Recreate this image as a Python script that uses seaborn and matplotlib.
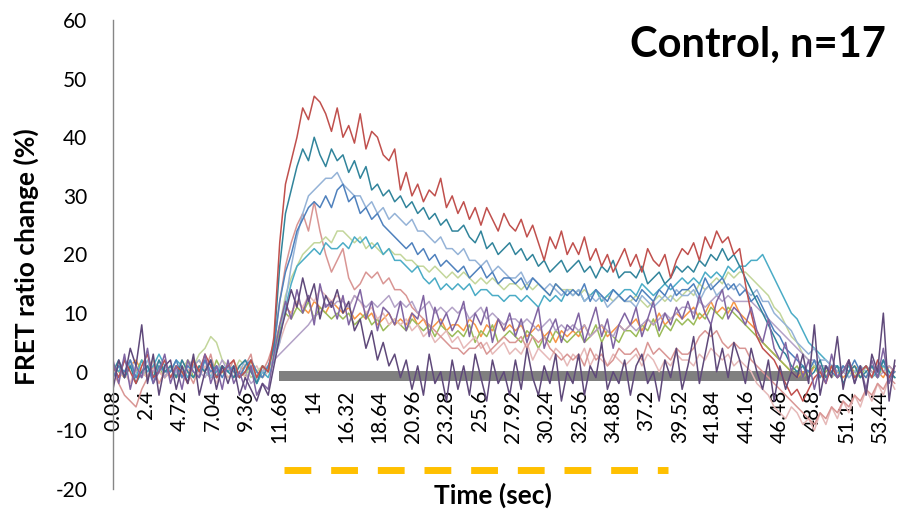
import numpy as np
import pandas as pd
import matplotlib
matplotlib.use("Agg")
import matplotlib.pyplot as plt
import seaborn as sns

sns.set_style("white")
plt.rcParams["font.family"] = ["Lato", "DejaVu Sans"]

# sampling of the traces (seconds)
t_start = 0.08
t_step = 0.4

red = [1,-1,2,0,-2,1,3,-1,0,2,
       -1,1,0,-2,2,0,3,1,-1,0,
       1,2,-1,0,2,-1,1,0,6,22,
       32,36,40,45,43,47,46,44,41,45,
       40,42,39,44,38,41,40,37,36,38,
       31,34,30,32,29,31,30,33,28,30,
       27,29,26,28,25,28,26,24,27,25,
       24,26,23,25,22,19,23,21,24,20,
       22,20,23,19,21,18,20,17,19,21,
       18,20,17,21,19,18,20,16,19,21,
       20,22,19,23,21,24,22,23,20,21,
       15,10,6,4,3,2,0,-2,-4,-3,
       -5,-3,-1,0,-2,1,-1,0,2,-1,
       0,1,-1,2,0,-1,1]

teal = [0,2,-1,1,-2,0,1,-1,2,0,
        1,-1,2,0,-1,1,0,2,-1,1,
        0,-1,1,2,0,-2,1,0,5,18,
        27,31,35,38,36,40,37,35,38,36,
        37,34,36,33,35,31,32,30,31,29,
        30,28,29,27,28,26,27,25,26,24,
        24,25,23,22,24,21,22,20,21,22,
        20,21,19,20,18,19,17,18,19,17,
        18,19,17,18,16,18,17,19,16,17,
        17,16,18,15,16,17,15,16,18,17,
        18,17,19,18,20,19,21,19,20,18,
        16,14,12,10,8,6,4,3,1,0,
        1,-1,0,2,-1,0,1,-2,0,1,
        -1,0,1,-1,2,0,-1]

blue = [-1,1,0,2,-1,0,1,-2,1,0,
        0,2,-1,1,0,-1,2,0,1,-1,
        1,0,-1,1,2,0,-1,1,4,12,
        17,20,24,26,28,29,28,30,28,31,
        32,29,30,27,28,26,27,25,24,23,
        22,21,22,20,21,19,20,18,19,18,
        17,18,16,17,18,16,17,15,16,16,
        15,16,14,16,15,14,13,15,14,13,
        14,13,15,12,14,13,12,14,13,12,
        13,12,14,13,12,14,13,15,13,14,
        14,15,13,16,14,15,16,14,15,13,
        14,12,13,11,9,7,6,4,3,2,
        1,0,2,-1,1,0,-1,1,0,2,
        0,-1,1,0,2,-1,0]

light_blue = [0,-1,2,1,-1,0,2,-1,0,1,
              -1,0,1,-2,1,2,0,-1,1,0,
              1,-1,0,2,1,-1,0,1,2,5,
              12,18,23,27,30,31,32,33,33,34,
              32,31,30,30,28,29,27,28,26,27,
              26,25,26,24,24,23,22,23,21,21,
              20,21,19,19,18,19,17,18,17,16,
              16,17,15,16,15,14,15,14,13,14,
              13,14,12,13,12,13,11,12,13,12,
              12,11,13,12,11,12,13,12,14,13,
              13,14,12,14,15,13,14,15,14,15,
              14,13,14,12,12,10,9,8,7,5,
              4,3,4,2,2,1,0,1,-1,0,
              1,0,-1,1,0,-1,1]

cyan = [1,0,2,1,-1,2,0,1,3,1,
        0,2,1,-1,1,0,2,-1,0,1,
        0,1,-1,0,1,-2,0,-1,2,6,
        11,15,18,19,20,21,20,22,21,21,
        22,21,23,22,23,21,22,20,21,19,
        19,18,17,18,16,15,16,14,15,14,
        15,14,15,13,14,14,13,13,12,13,
        13,12,13,12,11,13,12,13,12,14,
        13,14,12,13,14,12,13,14,13,14,
        14,13,15,14,13,14,15,14,15,16,
        15,16,15,17,16,17,16,18,17,18,
        18,19,19,20,18,16,14,12,10,9,
        7,5,4,3,2,1,1,0,1,-1,
        0,1,-1,0,1,0,-1]

light_green = [0,1,-1,2,0,-1,1,2,0,1,
               0,1,0,2,1,3,4,6,5,2,
               1,0,2,1,-1,0,1,0,3,8,
               13,16,18,20,21,22,22,23,22,24,
               24,23,22,23,21,22,21,20,21,20,
               20,19,19,18,18,17,18,17,16,17,
               16,17,16,15,16,15,16,15,14,15,
               15,14,15,14,15,14,13,15,14,14,
               14,13,14,13,14,12,13,12,13,12,
               12,13,12,11,12,13,12,13,12,13,
               14,13,15,14,15,16,15,17,16,17,
               17,16,15,14,13,11,10,8,6,5,
               3,2,1,0,1,-1,0,1,0,-1,
               1,0,-1,0,1,-1,0]

pink = [0,-2,-4,-5,-6,-3,-1,1,-2,0,
        1,-1,2,0,-2,1,0,3,-1,1,
        0,2,-1,1,3,-2,0,2,5,12,
        18,22,25,27,24,29,24,20,17,19,
        21,16,14,15,17,16,17,15,16,14,
        14,13,11,10,9,8,7,6,5,4,
        4,3,4,4,5,3,4,5,6,5,
        5,6,4,6,5,6,4,3,2,3,
        2,3,1,4,2,3,1,2,4,3,
        3,4,2,5,3,4,3,2,4,3,
        3,4,6,7,6,7,5,4,5,4,
        4,2,1,0,-1,-2,-3,-4,-5,-6,
        -7,-8,-9,-7,-8,-6,-7,-5,-6,-4,
        -5,-3,-4,-2,-3,-1,-2]

light_pink = [1,-1,0,-2,1,0,-1,2,0,-1,
              0,1,-1,0,2,-1,1,0,-2,1,
              -1,0,1,-1,0,1,-1,0,2,5,
              8,10,12,11,13,12,14,13,12,13,
              12,11,13,12,10,11,9,10,8,9,
              8,9,7,8,6,7,5,6,7,5,
              6,4,5,6,4,5,3,4,5,3,
              4,3,5,2,4,3,2,4,3,1,
              3,2,4,1,3,2,1,3,2,1,
              2,3,1,3,2,0,2,1,3,2,
              2,1,3,2,4,3,2,3,1,2,
              1,0,-2,-3,-4,-6,-7,-8,-6,-7,
              -9,-8,-10,-7,-9,-6,-8,-5,-7,-4,
              -6,-3,-5,-2,-4,-1,-3]

purple = [2,-2,3,-3,1,-1,4,-2,0,3,
          -2,1,-3,2,0,-1,3,-2,1,-3,
          2,-2,0,-3,1,-4,-2,-3,3,8,
          12,9,14,10,13,8,15,11,12,9,
          13,8,11,14,9,12,7,11,10,8,
          12,7,10,9,13,6,11,8,10,7,
          9,12,6,10,8,11,5,9,7,10,
          6,9,5,8,11,4,7,9,5,8,
          7,10,5,8,11,6,9,4,8,10,
          8,11,6,9,12,7,10,8,11,9,
          12,9,13,10,8,12,14,9,11,10,
          8,11,7,5,9,4,2,5,0,3,
          -1,2,-3,1,-2,3,-1,0,2,-2,
          1,-3,2,-1,4,-2,1]

dark_purple = [-3,2,-1,4,1,8,-2,3,-4,1,
               2,-3,1,-2,3,-4,0,2,-3,1,
               -2,1,-4,-1,-3,-5,-2,-4,1,6,
               10,14,11,16,12,15,9,13,11,14,
               10,12,7,9,4,7,2,5,1,3,
               -1,2,-3,1,-4,3,-2,0,-5,2,
               -3,1,-4,3,-1,-5,2,-2,0,-4,
               2,-3,4,-1,-4,1,-2,3,-5,0,
               -2,3,-4,1,-1,5,-3,0,-2,2,
               -4,1,3,-2,0,-5,2,-1,4,-3,
               1,6,-2,3,8,0,4,-1,5,2,
               -2,4,0,-3,2,-5,1,-3,0,-1,
               3,-2,8,-4,1,-1,6,-3,2,-2,
               1,-4,3,0,10,-5,2]

lavender = [0,1,-1,2,0,-1,1,0,2,-1,
            1,0,-1,1,2,0,-1,1,0,2,
            0,1,-1,0,-2,-1,0,1,2,3,
            4,5,6,7,8,9.5,10,11.5,11,12,
            12,11,13,12,11,12,11,12,13,11,
            12,11,12,10,11,12,10,11,10,11,
            10,11,9,10,11,9,10,9,8,9,
            9,8,9,8,7,8,9,7,8,7,
            8,7,8,6,7,8,7,6,8,7,
            8,7,8,9,8,9,10,9,10,11,
            11,10,12,11,12,13,12,13,12,12,
            12,12,11,10,9,8,7,6,5,4,
            3,2,2,1,1,0,1,0,-1,0,
            0,1,0,-1,0,1,0]

olive = [0,1,-1,1,0,2,-1,0,1,-1,
         1,-1,0,2,-1,1,0,-1,2,0,
         -1,0,1,-1,2,0,-1,1,3,7,
         10,9,11,10,12,9,11,10,9,10,
         9,10,8,9,10,8,9,7,8,9,
         8,7,9,8,7,8,6,8,7,6,
         7,6,8,5,7,6,8,5,6,7,
         6,5,7,6,4,6,5,7,6,5,
         6,7,5,6,8,5,7,6,5,7,
         7,6,8,7,9,6,8,7,9,8,
         9,8,10,9,11,10,9,11,10,9,
         8,7,6,5,4,3,2,1,0,1,
         -1,0,1,-1,0,1,-1,0,1,0,
         -1,1,0,-1,1,0,-1]

orange = [1,0,-1,1,2,0,-1,1,0,-1,
          0,1,-1,0,1,2,0,-1,1,0,
          1,-1,0,1,0,-1,1,0,4,8,
          11,10,12,11,10,12,11,10,12,11,
          10,11,9,10,9,10,8,9,10,8,
          9,8,10,8,9,7,8,9,7,8,
          8,7,9,8,6,8,7,9,7,8,
          7,8,6,7,8,6,7,5,7,6,
          7,6,8,6,7,8,6,7,8,7,
          8,9,7,9,8,10,8,9,10,9,
          10,11,9,10,12,10,11,10,12,10,
          9,8,7,5,4,3,2,1,0,-1,
          0,-1,1,0,-1,1,0,-1,0,1,
          0,-1,1,0,-1,1,0]

# drawing order (later on top) and colours
trace_names = ["orange", "olive", "light_pink", "pink", "light_green", "lavender",
               "cyan", "light_blue", "blue", "teal", "red", "purple", "dark_purple"]
trace_values = [orange, olive, light_pink, pink, light_green, lavender,
                cyan, light_blue, blue, teal, red, purple, dark_purple]
trace_colors = ["#F79646", "#9BBB59", "#E6B9B8", "#D99694", "#C3D69B", "#B3A2C7",
                "#4BACC6", "#95B3D7", "#4F81BD", "#31849B", "#C0504D", "#8064A2", "#5F497A"]

# stimulus markers
stim_times = [11.6, 48.45]
stim_level = [-0.7, -0.7]
bar_times = [11.97, 38.72]
bar_level = [-16.7, -16.7]

tick_labels = ["0.08", "2.4", "4.72", "7.04", "9.36", "11.68", "14", "16.32", "18.64",
               "20.96", "23.28", "25.6", "27.92", "30.24", "32.56", "34.88", "37.2",
               "39.52", "41.84", "44.16", "46.48", "48.8", "51.12", "53.44"]
y_ticks = [-20, -10, 0, 10, 20, 30, 40, 50, 60]

frames = []
for name, vals in zip(trace_names, trace_values):
    tt = np.round(t_start + t_step * np.arange(len(vals)), 2)
    frames.append(pd.DataFrame({"time": tt, "value": vals, "trace": name}))
df = pd.concat(frames, ignore_index=True)

fig = plt.figure(figsize=(8.97, 5.12), dpi=100)
ax = fig.add_axes([113 / 897, 23 / 512, 784 / 897, 469 / 512])

stim_df = pd.DataFrame({"time": stim_times, "value": stim_level})
sns.lineplot(data=stim_df, x="time", y="value", ax=ax, color="#808080",
             linewidth=7.2, solid_capstyle="butt", zorder=1)

sns.lineplot(data=df, x="time", y="value", hue="trace", hue_order=trace_names,
             palette=dict(zip(trace_names, trace_colors)), estimator=None, sort=False,
             linewidth=1.1, legend=False, ax=ax, zorder=2)

bar_df = pd.DataFrame({"time": bar_times, "value": bar_level})
sns.lineplot(data=bar_df, x="time", y="value", ax=ax, color="#FFC000",
             linewidth=5.0, legend=False)
ax.lines[-1].set_dashes([3.86, 2.86])
ax.lines[-1].set_dash_capstyle("butt")

# axis layout first (moving a spine resets the ticks)
for side in ["top", "right"]:
    ax.spines[side].set_visible(False)
ax.spines["bottom"].set_position(("data", 0))
ax.spines["bottom"].set_color("none")
ax.spines["left"].set_color("#868686")
ax.spines["left"].set_linewidth(1.0)

ax.set_xlim(0.08, 54.63)
ax.set_ylim(-20, 60)
ax.set_yticks(y_ticks)
ax.set_yticklabels([str(v) for v in y_ticks], fontsize=15)
ax.set_xticks([float(s) for s in tick_labels])
ax.set_xticklabels(tick_labels, rotation=90, fontsize=15, va="top", ha="center")

ax.tick_params(axis="x", length=0, pad=13, colors="black")
ax.tick_params(axis="y", length=6.5, width=1.0, color="#868686", labelcolor="black",
               direction="out", pad=12)
ax.grid(False)

ax.set_xlabel("Time (sec)", fontsize=19, fontweight="bold", color="black")
ax.set_ylabel("FRET ratio change (%)", fontsize=19, fontweight="bold", color="black")
ax.xaxis.set_label_coords(0.485, -0.013)
ax.yaxis.set_label_coords(-0.110, 0.495)
ax.xaxis.label.set_va("center")
ax.yaxis.label.set_va("center")

fig.text(630 / 897, 1 - 45 / 512, "Control, n=17", fontsize=30, fontweight="bold",
         color="black", ha="left", va="center")

fig.savefig("out.png", dpi=100)
